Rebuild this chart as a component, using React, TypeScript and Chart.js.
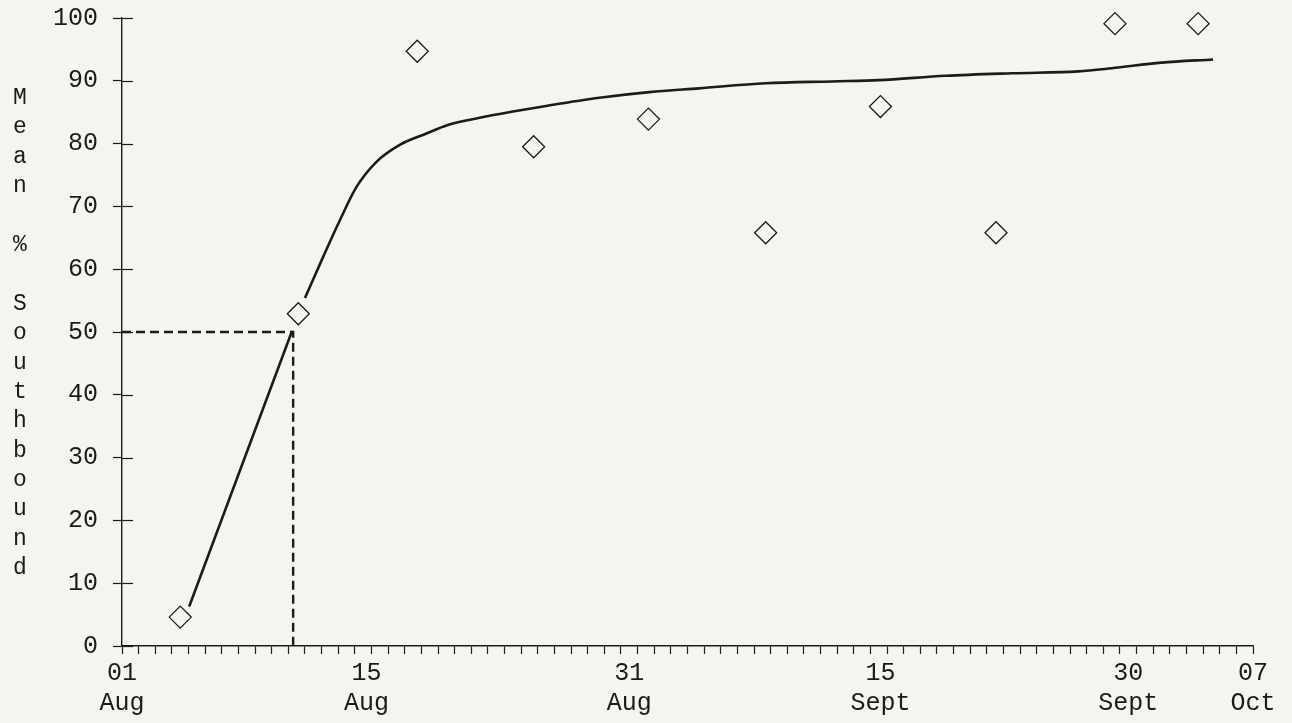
import React, { useEffect, useRef } from "react";
import { Chart, registerables } from "chart.js";

Chart.register(...registerables);

// ---- data ----
const pointDays = [3.5, 10.6, 17.75, 24.75, 31.65, 38.7, 45.6, 52.55, 59.7, 64.7];
const pointValues = [4.6, 52.9, 94.7, 79.5, 83.9, 65.8, 85.9, 65.8, 99.1, 99.1];

const curveDays = [4.04, 10.2, 10.6, 11.0, 12.1, 13.1, 14.1, 15.3, 16.7, 18.3, 19.5, 21.5, 23.5, 25.5, 28.7, 31.7, 34.7, 38.7, 42.7, 45.5, 49.5, 53.5, 57.5, 59.5, 62.5, 65.6];
const curveValues: (number | null)[] = [6.3, 50.0, null, 55.4, 62.0, 67.8, 73.1, 77.1, 79.8, 81.6, 82.9, 84.1, 85.1, 86.0, 87.3, 88.2, 88.8, 89.6, 89.9, 90.1, 90.8, 91.2, 91.5, 92.0, 92.9, 93.4];

const dashDays = [0, 10.29, 10.29];
const dashValues = [50, 50, 0];

const xTickDays = [0, 14.7, 30.5, 45.6, 60.5, 68];
const xTickLabels = [["01", "Aug"], ["15", "Aug"], ["31", "Aug"], ["15", "Sept"], ["30", "Sept"], ["07", "Oct"]];
const xMin = 0;
const xMax = 68;
const yMin = 0;
const yMax = 100;
const yStep = 10;
const yTitle = "Mean % Southbound";

const INK = "#1c1a1a";
const PAPER = "#f6f4f1";
const FONT = "'Liberation Mono', 'DejaVu Sans Mono', monospace";

const innerTicks = {
  id: "innerTicks",
  afterDraw(chart: any) {
    const y = chart.scales.y;
    const ctx = chart.ctx;
    ctx.save();
    ctx.strokeStyle = INK;
    ctx.lineWidth = 1.2;
    y.ticks.forEach((t: any) => {
      const py = Math.round(y.getPixelForValue(t.value)) + 0.5;
      ctx.beginPath();
      ctx.moveTo(y.right, py);
      ctx.lineTo(y.right + 11, py);
      ctx.stroke();
    });
    ctx.restore();
  },
};

export default function App() {
  const ref = useRef<HTMLCanvasElement | null>(null);

  useEffect(() => {
    if (!ref.current) return;
    const chart = new Chart(ref.current, {
      type: "line",
      data: {
        datasets: [
          {
            label: "fit",
            data: curveDays.map((d, i) => ({ x: d, y: curveValues[i] })),
            borderColor: INK,
            borderWidth: 2.6,
            pointRadius: 0,
            fill: false,
            spanGaps: false,
            cubicInterpolationMode: "monotone",
            clip: false,
          } as any,
          {
            label: "median",
            data: dashDays.map((d, i) => ({ x: d, y: dashValues[i] })),
            borderColor: INK,
            borderWidth: 2.4,
            borderDash: [9, 5],
            pointRadius: 0,
            fill: false,
            tension: 0,
            clip: false,
          } as any,
          {
            label: "observed",
            data: pointDays.map((d, i) => ({ x: d, y: pointValues[i] })),
            showLine: false,
            pointStyle: "rectRot",
            pointRadius: 11,
            pointBorderWidth: 1.3,
            pointBorderColor: INK,
            pointBackgroundColor: "rgba(0,0,0,0)",
            clip: false,
          } as any,
        ],
      },
      options: {
        animation: false,
        responsive: false,
        events: [],
        layout: { padding: { top: 18, right: 39, left: 0, bottom: 0 } },
        plugins: {
          legend: { display: false },
          tooltip: { enabled: false },
          title: { display: false },
        },
        scales: {
          x: {
            type: "linear",
            min: xMin,
            max: xMax,
            afterFit: (s: any) => {
              s.height = 77;
              s.paddingLeft = 0;
              s.paddingRight = 0;
            },
            afterBuildTicks: (s: any) => {
              const t: any[] = [];
              for (let d = xMin; d <= xMax; d++) t.push({ value: d });
              xTickDays.forEach((d) => {
                if (!Number.isInteger(d)) t.push({ value: d });
              });
              t.sort((a, b) => a.value - b.value);
              s.ticks = t;
            },
            ticks: {
              autoSkip: false,
              maxRotation: 0,
              minRotation: 0,
              padding: 4,
              color: INK,
              font: { family: FONT, size: 25 },
              callback: (v: any) => {
                const i = xTickDays.indexOf(Number(v));
                return i >= 0 ? xTickLabels[i] : "";
              },
            },
            grid: {
              drawOnChartArea: false,
              drawTicks: true,
              tickLength: 8,
              tickWidth: 1.2,
              tickColor: (c: any) =>
                c.tick && Number.isInteger(c.tick.value) ? INK : "rgba(0,0,0,0)",
            },
            border: { display: true, color: INK, width: 1.4 },
          },
          y: {
            type: "linear",
            min: yMin,
            max: yMax,
            afterFit: (s: any) => {
              s.width = 122;
              s.paddingTop = 0;
              s.paddingBottom = 0;
            },
            ticks: {
              stepSize: yStep,
              padding: 15,
              color: INK,
              font: { family: FONT, size: 25 },
            },
            grid: {
              drawOnChartArea: false,
              drawTicks: true,
              tickLength: 9,
              tickWidth: 1.2,
              tickColor: INK,
            },
            border: { display: true, color: INK, width: 1.4 },
          },
        },
      },
      plugins: [innerTicks],
    });
    return () => chart.destroy();
  }, []);

  return (
    <div
      style={{
        position: "fixed",
        left: 0,
        top: 0,
        width: 1292,
        height: 723,
        background: PAPER,
        overflow: "hidden",
      }}
    >
      <canvas ref={ref} width={1292} height={723} style={{ position: "absolute", left: 0, top: 0 }} />
      <div
        style={{
          position: "absolute",
          left: 4,
          top: 84,
          width: 32,
          fontFamily: FONT,
          fontSize: 23,
          lineHeight: "29.4px",
          textAlign: "center",
          color: INK,
        }}
      >
        {yTitle.split("").map((c, i) => (
          <div key={i} style={{ height: 29.4 }}>
            {c === " " ? "\u00a0" : c}
          </div>
        ))}
      </div>
    </div>
  );
}
